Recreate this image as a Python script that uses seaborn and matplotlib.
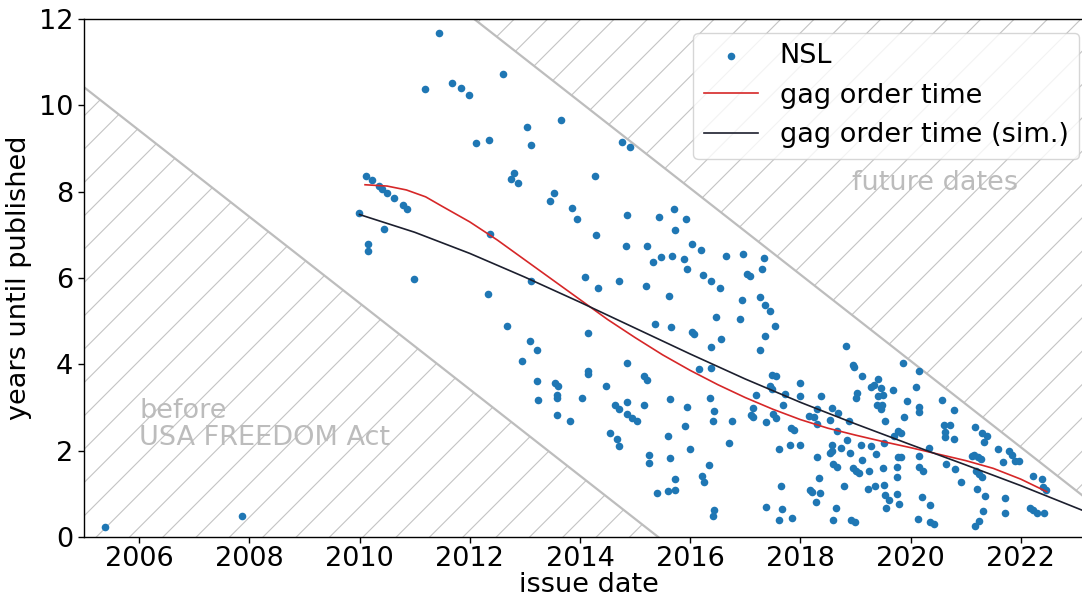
import numpy as np
import pandas as pd
import matplotlib
matplotlib.use("Agg")
import matplotlib.pyplot as plt
import seaborn as sns

# ---------------- data ----------------
nsl_date = [
    2005.39, 2007.87,
    2011.44, 2012.60, 2011.18, 2011.67, 2011.84, 2011.99, 2013.66, 2013.03, 2013.11, 2012.12, 2012.35,
    2010.12, 2010.22, 2010.36, 2010.41, 2010.50, 2010.63, 2010.79, 2010.87, 2009.99, 2010.44, 2010.16, 2010.16,
    2012.75, 2012.81, 2012.87, 2013.52, 2013.46, 2013.86, 2013.94, 2012.36, 2010.99, 2013.11, 2014.10,
    2012.33, 2014.14, 2012.68, 2013.10, 2013.22, 2012.95, 2013.22, 2013.55, 2013.60, 2013.59, 2013.59,
    2013.24, 2014.04, 2013.58, 2013.82, 2014.14, 2014.15,
    2014.77, 2014.90, 2014.27, 2014.86, 2015.43, 2015.71, 2015.93, 2015.72, 2014.30, 2014.83, 2015.21,
    2016.04, 2016.20, 2016.65, 2016.96, 2017.34, 2017.31, 2017.03, 2017.09, 2015.32, 2015.47, 2015.67,
    2015.88, 2015.94, 2016.23, 2016.38, 2016.55, 2014.33, 2014.71, 2015.19, 2015.62, 2016.94, 2017.27,
    2017.36, 2017.45, 2016.47, 2016.91, 2017.54, 2015.36, 2015.65, 2016.03, 2016.07, 2016.56, 2017.35,
    2016.38, 2017.26,
    2014.85, 2015.16, 2015.22, 2016.16, 2016.37, 2014.47, 2014.63, 2014.71, 2014.85, 2015.17, 2014.85,
    2014.95, 2015.04, 2015.63, 2015.95, 2016.36, 2016.44, 2016.42, 2016.76, 2017.19, 2017.14, 2017.11,
    2017.14, 2017.38, 2017.48, 2017.45, 2017.48, 2017.51, 2017.56, 2014.54, 2014.67, 2014.71, 2015.60,
    2015.90, 2016.00, 2016.70, 2017.61, 2015.26, 2015.26, 2015.64, 2016.35, 2016.21, 2016.26, 2015.72,
    2015.40, 2015.60, 2015.72, 2017.38, 2016.43, 2016.42, 2017.64, 2017.61,
    2018.82, 2018.95, 2018.97, 2019.87, 2020.16, 2019.11, 2017.55, 2017.99, 2019.41, 2019.33, 2019.28,
    2019.47, 2019.68, 2020.09, 2017.72, 2017.99, 2018.37, 2019.03, 2019.01, 2019.41, 2019.50, 2019.93,
    2017.69, 2018.30, 2018.57, 2018.69, 2019.39, 2019.46, 2019.49, 2020.15, 2020.16, 2018.16, 2018.25,
    2019.88, 2018.54, 2018.31, 2018.88, 2019.54, 2017.83, 2017.88, 2018.66, 2019.69, 2019.78, 2019.83,
    2018.85, 2019.52, 2017.81, 2017.99, 2018.57, 2018.73, 2019.10, 2019.28, 2019.37, 2018.90, 2018.54,
    2018.58, 2018.31, 2019.12, 2019.77, 2019.83, 2020.16, 2018.59, 2018.66, 2018.95, 2019.01, 2019.07,
    2019.25, 2019.50, 2019.75, 2020.16, 2020.23, 2018.33, 2019.75, 2018.18, 2018.21, 2018.80, 2018.35,
    2019.23, 2019.36, 2019.52, 2019.54, 2019.61, 2019.75, 2019.79, 2020.20, 2018.28, 2018.65, 2019.56,
    2017.67, 2017.85, 2018.60, 2018.92, 2018.99, 2020.14,
    2020.57, 2020.79, 2020.60, 2020.71, 2020.63, 2020.63, 2020.78, 2021.17, 2021.30, 2021.38, 2021.33,
    2021.59, 2021.79, 2021.84, 2021.89, 2021.97, 2021.68, 2020.34, 2021.11, 2021.15, 2021.22, 2021.27,
    2020.65, 2020.80, 2021.18, 2021.24, 2021.30, 2020.92, 2022.23, 2022.39, 2022.41, 2022.46, 2021.21,
    2021.35, 2021.71, 2020.36, 2021.31, 2021.71, 2022.17, 2022.23, 2022.29, 2022.42, 2020.36, 2020.42,
    2021.17, 2021.24,
]
nsl_years = [
    0.23, 0.48,
    11.68, 10.73, 10.37, 10.52, 10.39, 10.24, 9.67, 9.50, 9.07, 9.12, 9.20,
    8.36, 8.26, 8.13, 8.07, 7.98, 7.85, 7.69, 7.60, 7.50, 7.13, 6.79, 6.62,
    8.30, 8.43, 8.19, 7.97, 7.78, 7.62, 7.36, 7.03, 5.98, 5.94, 6.02,
    5.63, 4.72, 4.89, 4.55, 4.34, 4.07, 3.62, 3.57, 3.49, 3.28, 3.21,
    3.18, 3.23, 2.83, 2.69, 3.85, 3.78,
    9.15, 9.04, 8.36, 7.47, 7.41, 7.59, 7.37, 7.12, 6.99, 6.73, 6.75,
    6.79, 6.65, 6.50, 6.55, 6.46, 6.21, 6.10, 6.04, 6.36, 6.48, 6.52,
    6.43, 6.22, 6.07, 5.93, 5.76, 5.77, 5.93, 5.81, 5.58, 5.49, 5.55,
    5.38, 5.23, 5.09, 5.04, 4.88, 4.94, 4.86, 4.74, 4.70, 4.58, 4.65,
    4.41, 4.33,
    4.02, 3.74, 3.64, 3.89, 3.92, 3.50, 3.06, 2.96, 3.12, 3.06, 2.84,
    2.76, 2.69, 3.19, 3.01, 3.23, 2.91, 2.68, 2.68, 3.30, 2.99, 2.83,
    2.79, 2.67, 3.75, 3.49, 3.43, 2.85, 2.76, 2.41, 2.26, 2.11, 2.35,
    2.56, 2.05, 2.18, 2.04, 1.89, 1.72, 1.84, 1.67, 1.42, 1.28, 1.35,
    1.01, 1.07, 1.10, 0.70, 0.63, 0.49, 1.18, 0.39,
    4.43, 3.99, 3.93, 4.04, 3.85, 3.72, 3.72, 3.57, 3.65, 3.52, 3.47,
    3.46, 3.41, 3.48, 3.31, 3.26, 3.26, 3.34, 3.23, 3.27, 3.30, 3.16,
    3.06, 2.97, 2.99, 2.88, 3.05, 2.96, 3.06, 3.02, 2.89, 2.80, 2.77,
    2.77, 2.71, 2.62, 2.68, 2.68, 2.52, 2.47, 2.45, 2.35, 2.46, 2.41,
    2.25, 2.18, 2.14, 2.14, 2.14, 2.06, 2.12, 2.11, 1.93, 1.94, 1.94,
    1.99, 1.86, 1.79, 1.86, 1.86, 1.88, 1.70, 1.62, 1.61, 1.52, 1.48,
    1.53, 1.59, 1.62, 1.62, 1.53, 1.37, 1.38, 1.09, 1.05, 1.17, 1.02,
    1.12, 1.17, 1.21, 0.97, 0.86, 0.99, 0.77, 0.93, 0.80, 0.68, 0.67,
    0.65, 0.43, 0.39, 0.40, 0.35, 0.41,
    3.18, 2.94, 2.59, 2.59, 2.44, 2.32, 2.28, 2.55, 2.41, 2.33, 2.19,
    2.04, 2.00, 1.89, 1.75, 1.76, 1.74, 2.07, 1.88, 1.90, 1.86, 1.81,
    1.68, 1.57, 1.53, 1.47, 1.40, 1.28, 1.42, 1.35, 1.16, 1.08, 1.11,
    0.96, 0.91, 0.73, 0.60, 0.56, 0.67, 0.62, 0.56, 0.56, 0.35, 0.29,
    0.26, 0.36,
]

gag_date = [2010.10, 2010.50, 2010.85, 2011.20, 2011.50, 2012.00, 2012.50, 2013.00, 2013.50,
            2014.00, 2014.50, 2015.00, 2015.50, 2016.00, 2016.50, 2017.00, 2017.50, 2018.00,
            2018.50, 2019.00, 2019.50, 2020.00, 2020.50, 2021.00, 2021.50, 2022.00, 2022.47]
gag_years = [8.16, 8.13, 8.04, 7.88, 7.66, 7.30, 6.88, 6.42, 5.96,
             5.50, 5.04, 4.62, 4.22, 3.86, 3.53, 3.23, 2.96, 2.72,
             2.52, 2.36, 2.21, 2.07, 1.92, 1.77, 1.59, 1.34, 1.05]

sim_date = [2010.0, 2011.0, 2012.0, 2013.0, 2014.0, 2015.0, 2016.0, 2017.0, 2018.0,
            2019.0, 2020.0, 2021.0, 2022.0, 2023.31]
sim_years = [7.47, 7.06, 6.57, 6.02, 5.44, 4.84, 4.24, 3.66, 3.12,
             2.62, 2.14, 1.67, 1.19, 0.52]

freedom_act = 2015.42      # date of USA FREEDOM Act
today = 2024.08            # publication cut-off ("future dates")
x_ticks = [2006, 2008, 2010, 2012, 2014, 2016, 2018, 2020, 2022]
y_ticks = [0, 2, 4, 6, 8, 10, 12]

# ---------------- plot ----------------
DPI = 100
FS = 19.5
plt.rcParams.update({
    "font.size": FS,
    "axes.linewidth": 1.0,
    "xtick.major.size": 4.3,
    "ytick.major.size": 4.3,
    "xtick.major.width": 1.0,
    "ytick.major.width": 1.0,
    "xtick.major.pad": 2.5,
    "ytick.major.pad": 3.5,
    "hatch.linewidth": 0.8,
    "hatch.color": "#c4c4c4",
})
plt.rcParams["font.family"] = ["DejaVu Sans"]

fig = plt.figure(figsize=(1082 / DPI, 598 / DPI), dpi=DPI)
# the axes extends slightly past the right edge of the picture (right spine cut off)
ax = fig.add_axes([84 / 1082, 1 - 537 / 598, (1093 - 84) / 1082, (537 - 19) / 598])

xmin, xmax = 2005.0, 2023.31
ymin, ymax = 0, 12

# hatched areas
xb = np.array([xmin, freedom_act])
ax.fill_between(xb, 0, freedom_act - xb, facecolor="none", edgecolor="#c4c4c4",
                hatch="/", linewidth=0, zorder=0)
ax.plot(xb, freedom_act - xb, color="#bdbdbd", lw=1.6, zorder=1)

xf = np.array([today - ymax, xmax])
ax.fill_between(xf, today - xf, ymax, facecolor="none", edgecolor="#c4c4c4",
                hatch="/", linewidth=0, zorder=0)
ax.plot(xf, today - xf, color="#bdbdbd", lw=1.6, zorder=1)

ax.text(2006.0, 2.6, "before\nUSA FREEDOM Act", color="#bcbcbc", ha="left",
        va="center", fontsize=FS, linespacing=1.05, zorder=1)
ax.text(2020.45, 8.2, "future dates", color="#bcbcbc", ha="center", va="center",
        fontsize=FS, zorder=1)

df = pd.DataFrame({"date": nsl_date, "years": nsl_years})
sns.scatterplot(data=df, x="date", y="years", ax=ax, color="#1f77b4", s=30,
                linewidth=0, label="NSL", zorder=3)

gag = pd.DataFrame({"date": gag_date, "years": gag_years})
sns.lineplot(data=gag, x="date", y="years", ax=ax, color="#d62728", lw=1.2,
             sort=False, estimator=None, label="gag order time", zorder=4)
sim = pd.DataFrame({"date": sim_date, "years": sim_years})
sns.lineplot(data=sim, x="date", y="years", ax=ax, color="#1c1f2e", lw=1.2,
             sort=False, estimator=None, label="gag order time (sim.)", zorder=4)

ax.set_xlim(xmin, xmax)
ax.set_ylim(ymin, ymax)
ax.set_xticks(x_ticks)
ax.set_xticklabels([str(t) for t in x_ticks])
ax.set_yticks(y_ticks)
ax.set_xlabel("issue date", labelpad=0)
ax.set_ylabel("years until published", labelpad=5)

leg = ax.legend(loc="upper right", fontsize=FS, markerscale=1.0)

fig.savefig("out.png", dpi=DPI)
